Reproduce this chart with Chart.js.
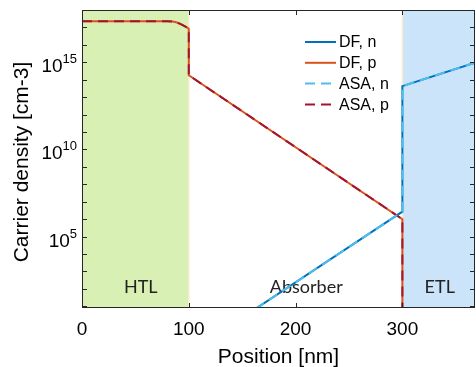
<!DOCTYPE html>
<html>
<head>
<meta charset="utf-8">
<script src="https://cdn.jsdelivr.net/npm/chart.js@4.4.1/dist/chart.umd.min.js"></script>
<style>
  html, body { margin: 0; padding: 0; background: #fff; }
  #wrap { width: 476px; height: 367px; }
</style>
</head>
<body>
<div id="wrap"><canvas id="chart"></canvas></div>
<script>
// carrier density [cm-3] vs position [nm]
const dfPPos = [0, 70, 80, 85, 89, 93, 96, 98.5, 100, 100, 300, 300];
const dfP = [2.3e17, 2.3e17, 2.28e17, 2.2e17, 1.9e17, 1.5e17, 1.2e17, 9.8e16, 8.5e16, 1.8e14, 1.0e6, 1e-3];
const dfNPos = [100, 300, 300, 368];
const dfN = [0.021, 2.7e6, 4.3e13, 9.5e14];
const asaPPos = [0, 70, 80, 85, 89, 93, 96, 98.5, 100, 100, 300, 300];
const asaP = [2.3e17, 2.3e17, 2.28e17, 2.2e17, 1.9e17, 1.5e17, 1.2e17, 9.8e16, 8.5e16, 1.8e14, 1.0e6, 1e-3];
const asaNPos = [100, 300, 300, 368];
const asaN = [0.021, 2.7e6, 4.3e13, 9.5e14];

const xTicks = [0, 100, 200, 300];
const yLabelExp = [5, 10, 15];
const yMinorExp = [1, 2, 3, 4, 5, 6, 7, 8, 9, 10, 11, 12, 13, 14, 15, 16, 17];

const regionNames = ['HTL', 'Absorber', 'ETL'];
const regionStart = [0, 100, 300];
const regionEnd = [100, 300, 368];
const regionLabelX = [55, 210, 335];
const regionColors = ['#d9f0b4', null, '#cce4fa'];

const AXIS = '#262626';
const FONT = '"Liberation Sans", Arial, sans-serif';

function pts(xs, ys) {
    return xs.map((v, i) => ({ x: v, y: ys[i] }));
}

const decor = {
    id: 'decor',
    beforeDatasetsDraw(chart) {
        const { ctx, chartArea: a, scales: { x } } = chart;
        ctx.save();
        regionNames.forEach((name, i) => {
            const x0 = x.getPixelForValue(regionStart[i]);
            const x1 = x.getPixelForValue(regionEnd[i]);
            if (regionColors[i]) {
                ctx.fillStyle = regionColors[i];
                ctx.fillRect(x0, a.top, x1 - x0, a.bottom - a.top);
            }
        });
        // pale boundary lines
        ctx.strokeStyle = '#fbeccd';
        ctx.lineWidth = 1.5;
        [100, 300].forEach(v => {
            const px = x.getPixelForValue(v);
            ctx.beginPath();
            ctx.moveTo(px, a.top);
            ctx.lineTo(px, a.bottom);
            ctx.stroke();
        });
        // region labels
        ctx.fillStyle = '#222';
        ctx.font = '18px Lato, "Open Sans", sans-serif';
        ctx.textAlign = 'center';
        ctx.textBaseline = 'alphabetic';
        regionNames.forEach((name, i) => {
            ctx.fillText(name, x.getPixelForValue(regionLabelX[i]), a.bottom - 15);
        });
        ctx.restore();
    },
    afterDraw(chart) {
        const { ctx, chartArea: a, scales: { x, y } } = chart;
        ctx.save();
        // box
        ctx.strokeStyle = AXIS;
        ctx.lineWidth = 1;
        ctx.strokeRect(a.left + 0.5, a.top + 0.5, a.right - a.left - 1, a.bottom - a.top - 1);

        // ticks
        ctx.beginPath();
        xTicks.forEach(v => {
            const px = Math.round(x.getPixelForValue(v)) + 0.5;
            ctx.moveTo(px, a.bottom);
            ctx.lineTo(px, a.bottom - 5);
            ctx.moveTo(px, a.top);
            ctx.lineTo(px, a.top + 5);
        });
        yMinorExp.forEach(e => {
            const py = Math.round(y.getPixelForValue(Math.pow(10, e))) + 0.5;
            ctx.moveTo(a.left, py);
            ctx.lineTo(a.left + 5, py);
            ctx.moveTo(a.right, py);
            ctx.lineTo(a.right - 5, py);
        });
        ctx.stroke();

        // x tick labels
        ctx.fillStyle = '#000';
        ctx.font = '19px ' + FONT;
        ctx.textAlign = 'center';
        ctx.textBaseline = 'alphabetic';
        xTicks.forEach(v => {
            ctx.fillText(String(v), x.getPixelForValue(v), a.bottom + 27);
        });

        // y tick labels with superscript exponent
        yLabelExp.forEach(e => {
            const py = y.getPixelForValue(Math.pow(10, e));
            ctx.font = '13px ' + FONT;
            const ew = ctx.measureText(String(e)).width;
            ctx.textAlign = 'right';
            ctx.fillText(String(e), a.left - 5, py + 1);
            ctx.font = '19px ' + FONT;
            ctx.fillText('10', a.left - 5 - ew, py + 10);
        });

        // axis titles
        ctx.font = '21px ' + FONT;
        ctx.textAlign = 'center';
        ctx.fillText('Position [nm]', (a.left + a.right) / 2, 363);
        ctx.save();
        ctx.translate(28, (a.top + a.bottom) / 2 + 3);
        ctx.rotate(-Math.PI / 2);
        ctx.fillText('Carrier density [cm-3]', 0, 0);
        ctx.restore();

        // legend
        ctx.font = '16px ' + FONT;
        ctx.textAlign = 'left';
        ctx.textBaseline = 'middle';
        chart.data.datasets.forEach((ds, i) => {
            const ly = 42 + i * 20.8;
            ctx.strokeStyle = ds.borderColor;
            ctx.lineWidth = ds.borderWidth;
            ctx.setLineDash(ds.borderDash || []);
            ctx.beginPath();
            ctx.moveTo(305, ly);
            ctx.lineTo(336, ly);
            ctx.stroke();
            ctx.setLineDash([]);
            ctx.fillStyle = '#000';
            ctx.fillText(ds.label, 339, ly + 1);
        });
        ctx.restore();
    }
};

new Chart(document.getElementById('chart'), {
    type: 'line',
    data: {
        datasets: [
            {
                label: 'DF, n',
                data: pts(dfNPos, dfN),
                borderColor: '#0072bd',
                borderWidth: 2,
                order: 1
            },
            {
                label: 'DF, p',
                data: pts(dfPPos, dfP),
                borderColor: '#d95319',
                borderWidth: 2,
                order: 1
            },
            {
                label: 'ASA, n',
                data: pts(asaNPos, asaN),
                borderColor: '#4dbeee',
                borderWidth: 2,
                borderDash: [10, 6],
                order: 0
            },
            {
                label: 'ASA, p',
                data: pts(asaPPos, asaP),
                borderColor: '#a2142f',
                borderWidth: 2,
                borderDash: [10, 6],
                order: 0
            }
        ]
    },
    options: {
        responsive: true,
        maintainAspectRatio: false,
        animation: false,
        layout: { padding: { left: 82, right: 1, top: 10, bottom: 59 } },
        elements: {
            point: { radius: 0 },
            line: { tension: 0, fill: false }
        },
        scales: {
            x: { type: 'linear', min: 0, max: 368, display: false },
            y: { type: 'logarithmic', min: 8, max: 1e18, display: false }
        },
        plugins: {
            legend: { display: false },
            tooltip: { enabled: false }
        }
    },
    plugins: [decor]
});
</script>
</body>
</html>
